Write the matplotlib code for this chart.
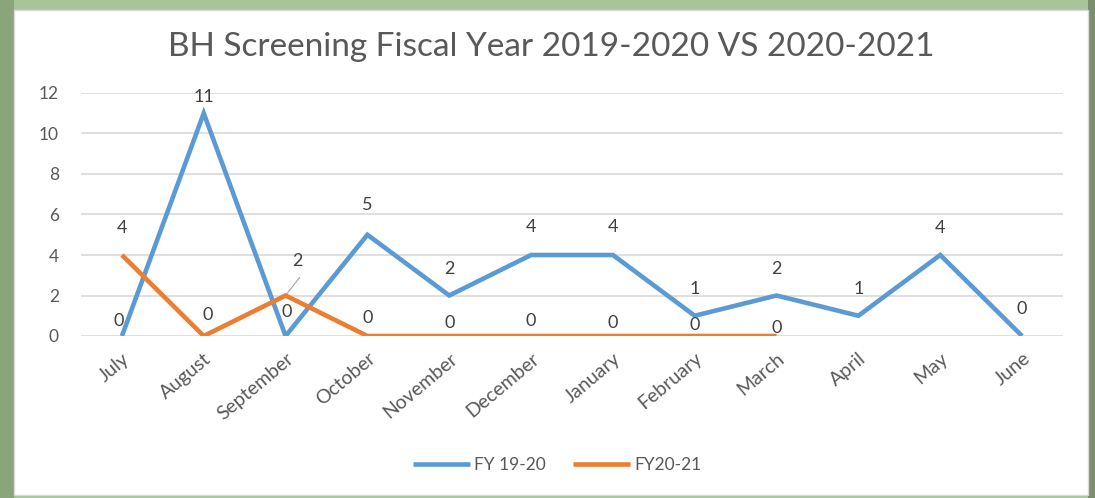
import matplotlib
matplotlib.use("Agg")
import matplotlib.pyplot as plt
from matplotlib.patches import Rectangle

months = ["July", "August", "September", "October", "November", "December",
          "January", "February", "March", "April", "May", "June"]
fy1920 = [0, 11, 0, 5, 2, 4, 4, 1, 2, 1, 4, 0]
fy2021 = [4, 0, 2, 0, 0, 0, 0, 0, 0]
yticks = [0, 2, 4, 6, 8, 10, 12]

plt.rcParams['font.family'] = ['Lato', 'DejaVu Sans']
W, H = 1095, 498
fig = plt.figure(figsize=(W / 100, H / 100), dpi=100)
fig.patch.set_facecolor("white")

# frame
fig.patches.append(Rectangle((0, 0), 1, 1, transform=fig.transFigure,
                             facecolor="#a8c59a", edgecolor="none", zorder=-10))
fig.patches.append(Rectangle((0, 0), 14 / W, 1, transform=fig.transFigure,
                             facecolor="#8aa47c", edgecolor="none", zorder=-9))
fig.patches.append(Rectangle((1088 / W, 0), 7 / W, 1, transform=fig.transFigure,
                             facecolor="#7b8f6c", edgecolor="none", zorder=-9))
fig.patches.append(Rectangle((14 / W, 3 / H), 1074 / W, (H - 13) / H,
                             transform=fig.transFigure, facecolor="white",
                             edgecolor="#d9d9d9", linewidth=1, zorder=-8))

ax = fig.add_axes([81 / W, 1 - 336 / H, (1063 - 81) / W, (336 - 93) / H])
ax.set_facecolor("none")
x = list(range(len(months)))
blue = "#5b9bd5"
orange = "#ed7d31"
ax.plot(x, fy1920, color=blue, lw=3.3, solid_capstyle="butt", solid_joinstyle="miter",
        label="FY 19-20", zorder=3)
ax.plot(x[:len(fy2021)], fy2021, color=orange, lw=3.3, solid_capstyle="butt",
        solid_joinstyle="miter", label="FY20-21", zorder=4)

ax.set_xlim(-0.5, len(months) - 0.5)
ax.set_ylim(0, 12)
ax.set_yticks(yticks)
ax.set_xticks(x)
ax.set_xticklabels(months, rotation=40, ha="right", rotation_mode="anchor",
                   color="#595959", fontsize=14)
ax.tick_params(axis="y", colors="#595959", labelsize=12.5, length=0, pad=16)
ax.tick_params(axis="x", length=0, pad=10)
ax.grid(axis="y", color="#d9d9d9", lw=1.2)
ax.set_axisbelow(True)
for s in ax.spines.values():
    s.set_visible(False)

# label placement (pixel offsets of label centre above the point)
px = 0.72
blue_dy = [15, 16, 24, 30, 26, 28, 28, 27, 27, 27, 27, 27]
blue_dx = [-3, 0, 1, 0, 0, 0, 0, 0, 0, 0, 0, 0]
orange_dy = [27, 21, 34, 18, 13, 15, 13, 11, 8]
orange_dx = [0, 4, 12, 0, 0, 0, 0, 0, 0]
lab_kw = dict(textcoords="offset points", ha="center", va="center",
              color="#404040", fontsize=13, zorder=6)
for i, v in enumerate(fy1920):
    ax.annotate(str(v), (i, v), xytext=(blue_dx[i] * px, blue_dy[i] * px), **lab_kw)
for i, v in enumerate(fy2021):
    ax.annotate(str(v), (i, v), xytext=(orange_dx[i] * px, orange_dy[i] * px), **lab_kw)
    if i == 2:
        ax.annotate("", (i, v), xytext=(14 * px, 18 * px), textcoords="offset points",
                    arrowprops=dict(arrowstyle="-", color="#a6a6a6", lw=0.8,
                                    shrinkA=0, shrinkB=2))

fig.text(551 / W, 1 - 47 / H, "BH Screening Fiscal Year 2019-2020 VS 2020-2021",
         ha="center", va="center", fontsize=24, color="#595959")

leg = fig.legend(loc="center", bbox_to_anchor=(557 / W, 1 - 465 / H), ncol=2,
                 frameon=False, fontsize=12.5, handlelength=3.3, columnspacing=1.6,
                 handletextpad=0.2)
for t in leg.get_texts():
    t.set_color("#595959")

fig.savefig("out.png", dpi=100)
